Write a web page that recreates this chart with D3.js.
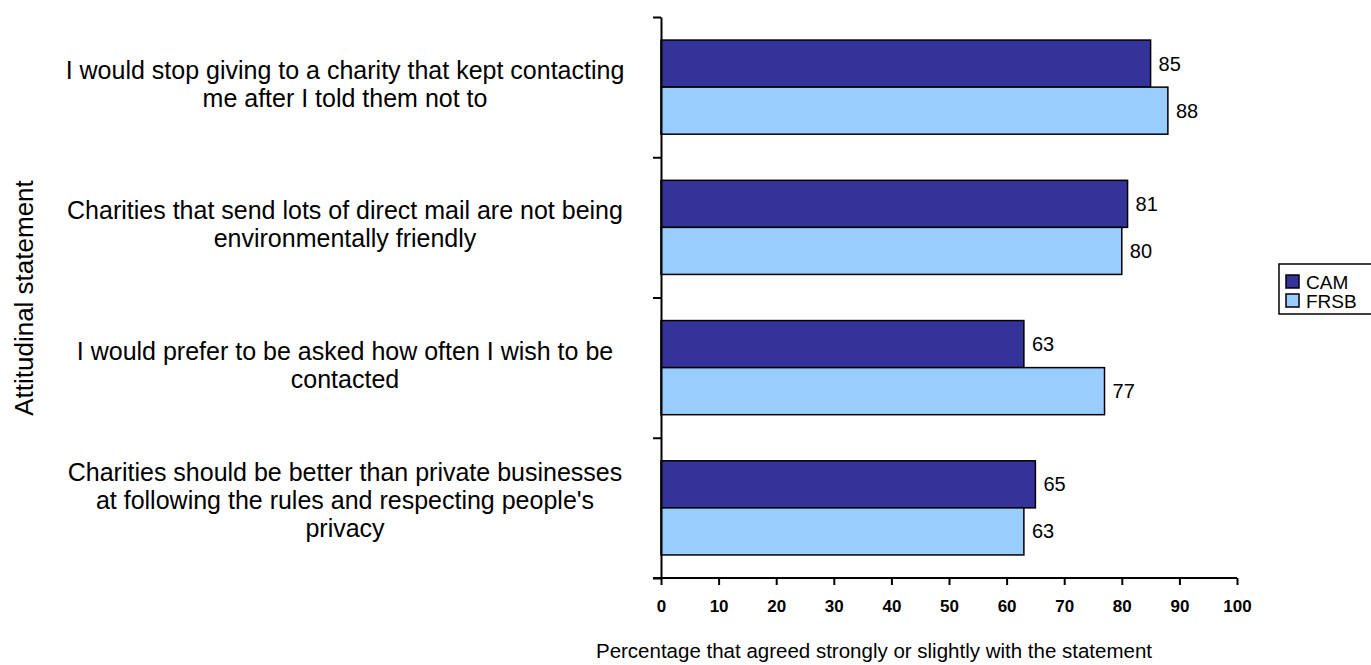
<!DOCTYPE html>
<html>
<head>
  <meta charset="utf-8">
  <title>Attitudinal statements</title>
  <script src="https://d3js.org/d3.v7.min.js"></script>
  <style>
    body { margin: 0; background: #fff; font-family: "Liberation Sans", Arial, sans-serif; }
    .axis path, .axis line { stroke: #000; stroke-width: 2px; }
    .x.axis text { font-size: 17px; font-weight: bold; fill: #000; }
    .cat-label { font-size: 25px; fill: #000; }
    .val-label { font-size: 20px; fill: #000; }
    .legend text { font-size: 19px; fill: #000; }
  </style>
</head>
<body>
  <svg width="1371" height="665"></svg>
  <script>
    // data
    const categories = [
      ["I would stop giving to a charity that kept contacting", "me after I told them not to"],
      ["Charities that send lots of direct mail are not being", "environmentally friendly"],
      ["I would prefer to be asked how often I wish to be", "contacted"],
      ["Charities should be better than private businesses", "at following the rules and respecting people's", "privacy"]
    ];
    const seriesNames = ["CAM", "FRSB"];
    const camValues = [85, 81, 63, 65];
    const frsbValues = [88, 80, 77, 63];
    const xTicks = [0, 10, 20, 30, 40, 50, 60, 70, 80, 90, 100];
    const colors = { CAM: "#333399", FRSB: "#99CCFF" };

    const svg = d3.select("svg");
    const catIds = categories.map((c, i) => i);

    const x = d3.scaleLinear().domain([0, 100]).range([661, 1237]);
    const y = d3.scaleBand().domain(catIds).range([17, 578]).padding(0);
    const ySub = d3.scaleBand().domain(seriesNames).range([0, y.bandwidth()])
      .paddingInner(0).paddingOuter(0.49);

    const rows = catIds.map(i => ({ i, CAM: camValues[i], FRSB: frsbValues[i] }));

    // bars
    const groups = svg.append("g").selectAll("g")
      .data(rows)
      .enter().append("g")
      .attr("transform", d => `translate(0,${y(d.i)})`);

    groups.selectAll("rect")
      .data(d => seriesNames.map(s => ({ s, v: d[s] })))
      .enter().append("rect")
      .attr("x", x(0))
      .attr("y", d => ySub(d.s))
      .attr("width", d => x(d.v) - x(0))
      .attr("height", ySub.bandwidth())
      .attr("fill", d => colors[d.s])
      .attr("stroke", "#000")
      .attr("stroke-width", 1.5);

    groups.selectAll("text.val-label")
      .data(d => seriesNames.map(s => ({ s, v: d[s] })))
      .enter().append("text")
      .attr("class", "val-label")
      .attr("x", d => x(d.v) + 8)
      .attr("y", d => ySub(d.s) + ySub.bandwidth() / 2)
      .attr("dy", "0.35em")
      .text(d => d.v);

    // x axis
    svg.append("g")
      .attr("class", "x axis")
      .attr("transform", "translate(0,578)")
      .call(d3.axisBottom(x).tickValues(xTicks).tickSize(7).tickSizeOuter(7).tickPadding(15))
      .call(g => g.select(".domain").attr("d", `M${x(0) - 8},0H${x(100)}`));

    // y axis with ticks at the band edges
    const yEdge = d3.scaleLinear().domain([0, categories.length]).range([17, 578]);
    svg.append("g")
      .attr("class", "y axis")
      .attr("transform", `translate(${x(0)},0)`)
      .call(d3.axisLeft(yEdge).ticks(categories.length).tickFormat("").tickSize(8).tickSizeOuter(0));

    // category labels
    const labels = svg.append("g").selectAll("text")
      .data(rows)
      .enter().append("text")
      .attr("class", "cat-label")
      .attr("text-anchor", "middle")
      .attr("y", d => y(d.i) + y.bandwidth() / 2);

    labels.each(function(d) {
      const lines = categories[d.i];
      const el = d3.select(this);
      const lh = 28;
      lines.forEach((t, k) => {
        el.append("tspan")
          .attr("x", 345)
          .attr("dy", k === 0 ? (-(lines.length - 1) * lh / 2 + 9 - (lines.length > 2 ? 8 : 3)) : lh)
          .text(t);
      });
    });

    // axis titles
    svg.append("text")
      .attr("x", 874)
      .attr("y", 658)
      .attr("text-anchor", "middle")
      .style("font-size", "20.5px")
      .text("Percentage that agreed strongly or slightly with the statement");

    svg.append("text")
      .attr("transform", "translate(33,298) rotate(-90)")
      .attr("text-anchor", "middle")
      .style("font-size", "26px")
      .text("Attitudinal statement");

    // legend
    const legend = svg.append("g").attr("class", "legend");
    legend.append("rect")
      .attr("x", 1279).attr("y", 264)
      .attr("width", 95).attr("height", 50)
      .attr("fill", "#fff").attr("stroke", "#000").attr("stroke-width", 1.5);

    const item = legend.selectAll("g")
      .data(seriesNames)
      .enter().append("g")
      .attr("transform", (d, i) => `translate(1286,${275 + i * 19})`);
    item.append("rect")
      .attr("width", 13).attr("height", 13)
      .attr("fill", d => colors[d])
      .attr("stroke", "#000").attr("stroke-width", 1.5);
    item.append("text")
      .attr("x", 20).attr("y", 13.5)
      .text(d => d);
  </script>
</body>
</html>
